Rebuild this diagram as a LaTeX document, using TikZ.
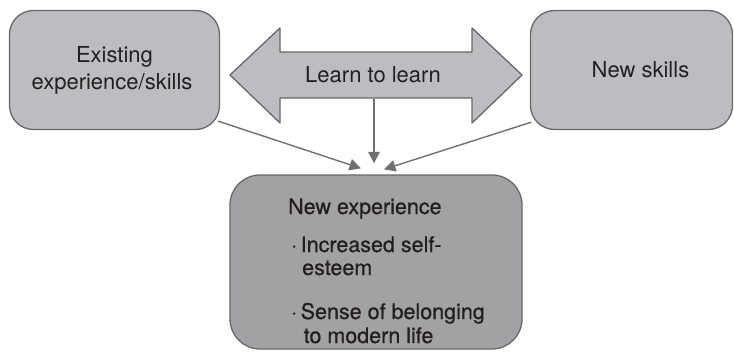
\documentclass[tikz,border=0pt]{standalone}
\usepackage{fontspec}
\setmainfont{TeX Gyre Heros}
\newfontfamily\medfont{TeX Gyre Heros}[FakeBold=0.7]
\usetikzlibrary{arrows.meta}
\definecolor{lightbox}{HTML}{BDBDC1}
\definecolor{darkbox}{HTML}{A2A2A5}
\definecolor{edgegray}{HTML}{686868}
\definecolor{linegray}{HTML}{707070}
\definecolor{txt}{HTML}{231F20}
\tikzset{
  topbox/.style={draw=edgegray, line width=1.3pt, fill=lightbox, rounded corners=24pt,
    inner sep=0pt, text=txt, font=\fontsize{22}{27}\selectfont, align=center},
  btext/.style={anchor=base west, text=txt, inner sep=0pt, font=\medfont\fontsize{21.5}{24}\selectfont},
  conn/.style={draw=linegray, line width=1.4pt, -{Triangle[length=11.5pt,width=11.5pt]}},
}
\begin{document}
\begin{tikzpicture}[x=1pt,y=-1pt]
\useasboundingbox (0,0) rectangle (734,351);
\node[topbox, minimum width=210pt, minimum height=119pt] (lb) at (114.5,70) {Existing\\experience/skills\hspace*{5pt}};
\node[topbox, minimum width=202pt, minimum height=119pt] (rb) at (631.5,70) {\hspace*{18pt}New skills};
% double arrow
\draw[draw=edgegray, line width=1.3pt, fill=lightbox, line join=round]
  (230,75) -- (280,28) -- (280,52) -- (472,52) -- (472,28) -- (522,75)
  -- (472,123) -- (472,98) -- (280,98) -- (280,123) -- cycle;
\node[text=txt, font=\fontsize{22}{26}\selectfont, inner sep=0pt] (ar) at (373,75) {Learn to learn};
\coordinate (arb) at (374,98.6);
\node[draw=edgegray, line width=1.3pt, fill=darkbox, rounded corners=30pt,
  minimum width=292pt, minimum height=174pt, inner sep=0pt] (nb) at (376,262) {};
\node[btext] (nt) at (288,214) {New experience};
\node[btext] (b1) at (291,252) {·\,Increased self-};
\node[btext] (b1b) at (302,275) {esteem};
\node[btext] (b2) at (291,319) {·\,Sense of belonging};
\node[btext] (b2b) at (303.5,343) {to modern life};
\coordinate (t1) at ([shift={(-15,-6)}]nb.north);
\coordinate (t2) at ([shift={(-2,-11)}]nb.north);
\coordinate (t3) at ([shift={(8,-5)}]nb.north);
\draw[conn] ([shift={(-2,-9)}]lb.south east) -- (t1);
\draw[conn] (arb) -- (t2);
\draw[conn] ([shift={(1.5,-8)}]rb.south west) -- (t3);
\end{tikzpicture}
\end{document}
